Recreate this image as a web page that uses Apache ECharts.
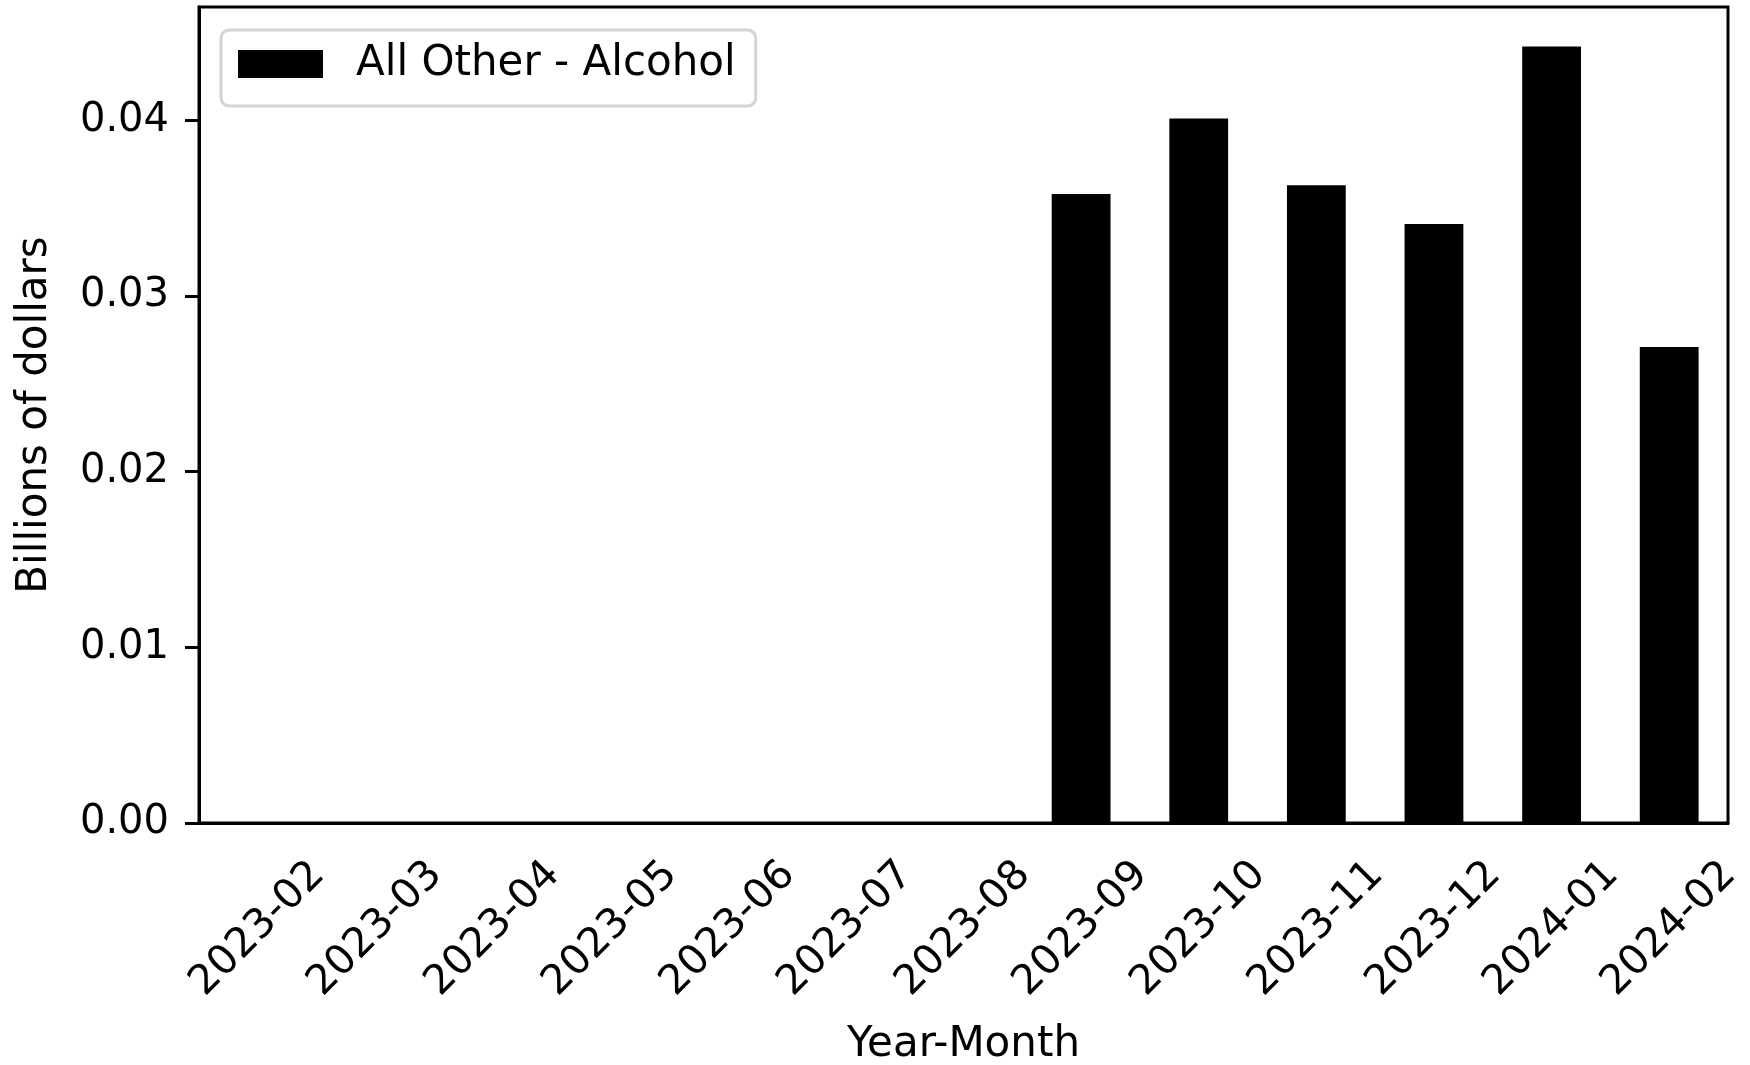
<!DOCTYPE html>
<html>
<head>
<meta charset="utf-8">
<script src="https://cdn.jsdelivr.net/npm/echarts@6/dist/echarts.min.js"></script>
<style>
  html, body { margin: 0; padding: 0; background: #fff; }
  #chart { width: 1750px; height: 1065px; }
</style>
</head>
<body>
<div id="chart"></div>
<script>
// data
const months = ['2023-02', '2023-03', '2023-04', '2023-05', '2023-06', '2023-07', '2023-08',
    '2023-09', '2023-10', '2023-11', '2023-12', '2024-01', '2024-02'];
const alcohol = [0, 0, 0, 0, 0, 0, 0, 0.0358, 0.0401, 0.0363, 0.0341, 0.0442, 0.0271];
const yTicks = [0, 0.01, 0.02, 0.03, 0.04];
const seriesName = 'All Other - Alcohol';

const chart = echarts.init(document.getElementById('chart'));
const font = 'DejaVu Sans';

const option = {
    animation: false,
    backgroundColor: '#fff',
    textStyle: { fontFamily: font },
    grid: {
        left: 199, right: 22, top: 7, bottom: 242,
        outerBoundsMode: 'none',
        show: true, borderColor: '#000', borderWidth: 3, backgroundColor: '#fff'
    },
    legend: {
        left: 221, top: 30,
        data: [seriesName],
        icon: 'rect',
        itemWidth: 85, itemHeight: 28,
        padding: [13, 20, 21, 17],
        backgroundColor: 'rgba(255,255,255,0.8)',
        borderColor: '#d4d4d4', borderWidth: 3, borderRadius: 8,
        textStyle: { fontFamily: font, fontSize: 42, lineHeight: 42, color: '#000', padding: [0, 0, 0, 28] }
    },
    xAxis: {
        type: 'category',
        data: months,
        name: 'Year-Month',
        nameLocation: 'middle',
        nameGap: 201,
        nameTextStyle: { fontFamily: font, fontSize: 42, color: '#000' },
        axisLine: { lineStyle: { color: '#000', width: 3 } },
        axisTick: { alignWithLabel: true, length: 14, lineStyle: { color: '#000', width: 3 } },
        axisLabel: {
            rotate: 45, interval: 0, align: 'center', verticalAlign: 'middle',
            margin: 106, fontFamily: font, fontSize: 41, color: '#000'
        }
    },
    yAxis: {
        type: 'value',
        min: 0, max: 0.04645, interval: 0.01,
        name: 'Billions of dollars',
        nameLocation: 'middle',
        nameGap: 143,
        nameTextStyle: { fontFamily: font, fontSize: 42, color: '#000' },
        splitLine: { show: false },
        axisLine: { show: true, lineStyle: { color: '#000', width: 3 } },
        axisTick: { show: true, length: 14, customValues: yTicks, lineStyle: { color: '#000', width: 3 } },
        axisLabel: {
            customValues: yTicks, margin: 30, fontFamily: font, fontSize: 40, color: '#000',
            formatter: function (v) { return v.toFixed(2); }
        }
    },
    series: [{
        name: seriesName,
        type: 'bar',
        data: alcohol,
        barWidth: '50%',
        itemStyle: { color: '#000' }
    }]
};

chart.setOption(option);
</script>
</body>
</html>
